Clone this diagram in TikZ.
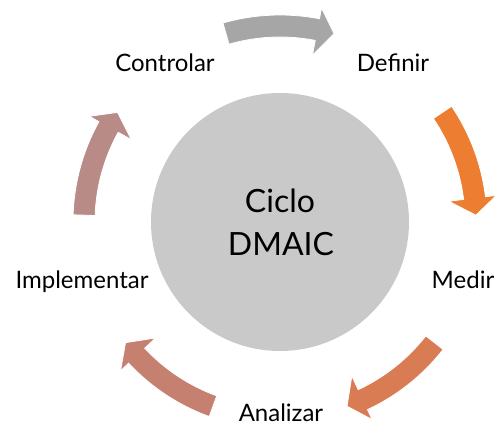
\documentclass[tikz,border=0pt]{standalone}
\usepackage{fontspec}
\setmainfont{Lato}
\definecolor{cgray}{RGB}{166,166,166}
\definecolor{corange}{RGB}{237,125,49}
\definecolor{cbr}{RGB}{217,124,84}
\definecolor{cbl}{RGB}{198,128,112}
\definecolor{cleft}{RGB}{185,139,134}
\definecolor{ccircle}{RGB}{201,201,201}
\tikzset{
  lbl/.style={font=\fontsize{24}{28}\selectfont, text=black, anchor=base, inner sep=0pt},
  arrowshape/.style={draw=white, line width=0.8pt, line join=miter}
}
\begin{document}
\begin{tikzpicture}[x=1pt,y=1pt]
\useasboundingbox (0,0) rectangle (496,-425);
\coordinate (c) at (280,-222);
\node[circle, fill=ccircle, minimum size=258pt, inner sep=0pt] (hub) at (c) {};
\node[font=\fontsize{32}{42}\selectfont, anchor=base, inner sep=0pt] (ctext) at (280,-213) {Ciclo};
\node[font=\fontsize{32}{42}\selectfont, anchor=base, inner sep=0pt] (ctext2) at (281,-255) {DMAIC};
\begin{scope}[shift={(c)}]
\foreach \th/\col in {90/cgray, 18/corange, -54/cbr, -126/cbl, 162/cleft}{
  \pgfmathsetmacro{\aa}{\th+16}
  \pgfmathsetmacro{\ab}{\th-11}
  \pgfmathsetmacro{\at}{\th-16}
  \fill[\col, arrowshape] (\aa:207) arc[start angle=\aa, end angle=\ab, radius=207]
    -- (\ab:218) -- (\at:196) -- (\ab:170) -- (\ab:185)
    arc[start angle=\ab, end angle=\aa, radius=185] -- cycle;
}
\end{scope}
\node[lbl] (controlar) at (165,-72) {Controlar};
\node[lbl] (definir) at (393,-72) {Definir};
\node[lbl] (medir) at (463,-288) {Medir};
\node[lbl] (implementar) at (82,-288) {Implementar};
\node[lbl] (analizar) at (281,-421) {Analizar};
\end{tikzpicture}
\end{document}
